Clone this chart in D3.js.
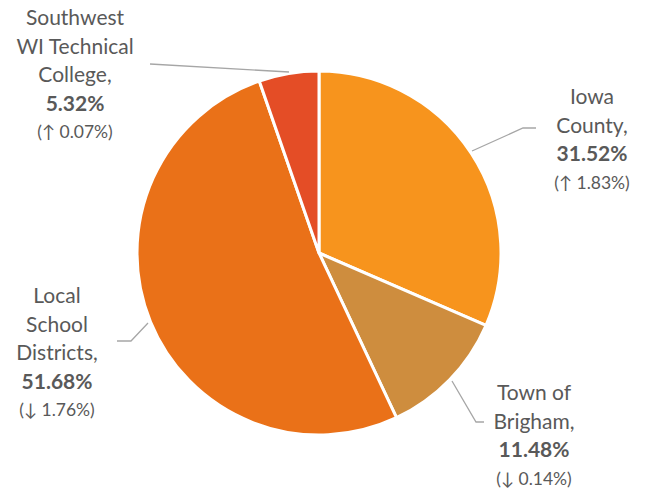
<!DOCTYPE html>
<html><head><meta charset="utf-8">
<script src="https://cdn.jsdelivr.net/npm/d3@7"></script>
<style>body{margin:0;background:#fff}svg{display:block}</style>
</head><body>
<svg id="c" width="649" height="489"></svg>
<script>
const categories = ["Iowa County", "Town of Brigham", "Local School Districts", "Southwest WI Technical College"];
const values = [31.52, 11.48, 51.68, 5.32];
const changes = ["↑ 1.83%", "↓ 0.14%", "↓ 1.76%", "↑ 0.07%"];
const labelLines = [["Iowa", "County,"], ["Town of", "Brigham,"], ["Local", "School", "Districts,"], ["Southwest", "WI Technical", "College,"]];
const colors = ["#F7941D", "#CE8D3E", "#EA7118", "#E44D26"];

const svg = d3.select("#c");
const cx = 319, cy = 253, r = 182;
const g = svg.append("g").attr("transform", `translate(${cx},${cy})`);
const pie = d3.pie().sort(null).value(d => d)(values);
const arc = d3.arc().innerRadius(0).outerRadius(r);
g.selectAll("path").data(pie).join("path")
  .attr("d", arc).attr("fill", (d, i) => colors[i])
  .attr("stroke", "#fff").attr("stroke-width", 3).attr("stroke-linejoin", "round");

const labelPos = [
  {x: 592, y: 97, lead: [[472,151],[523,128],[536,128]]},
  {x: 534, y: 393, lead: [[452,381],[476,422],[484,422]]},
  {x: 57, y: 296, lead: [[148,323],[131,341],[117,341]]},
  {x: 75, y: 18, lead: [[289,72],[150,64]]}
];
const line = d3.line();
labelPos.forEach((p, i) => {
  svg.append("path").attr("d", line(p.lead)).attr("fill", "none")
    .attr("stroke", "#a6a6a6").attr("stroke-width", 1.3);
  const t = svg.append("text").attr("text-anchor", "middle")
    .attr("font-family", "Lato, 'Open Sans', sans-serif").attr("fill", "#595959");
  const lines = labelLines[i];
  let y = p.y;
  lines.forEach(l => {
    t.append("tspan").attr("x", p.x).attr("y", y).attr("dy", "0.35em").attr("font-size", 21).text(l);
    y += 28.5;
  });
  t.append("tspan").attr("x", p.x).attr("y", y).attr("dy", "0.35em").attr("font-size", 21)
    .attr("font-weight", "bold").text(values[i].toFixed(2) + "%");
  y += 28.5;
  t.append("tspan").attr("x", p.x).attr("y", y).attr("dy", "0.35em").attr("font-size", 17.5)
    .text("(" + changes[i] + ")");
});
</script>
</body></html>
